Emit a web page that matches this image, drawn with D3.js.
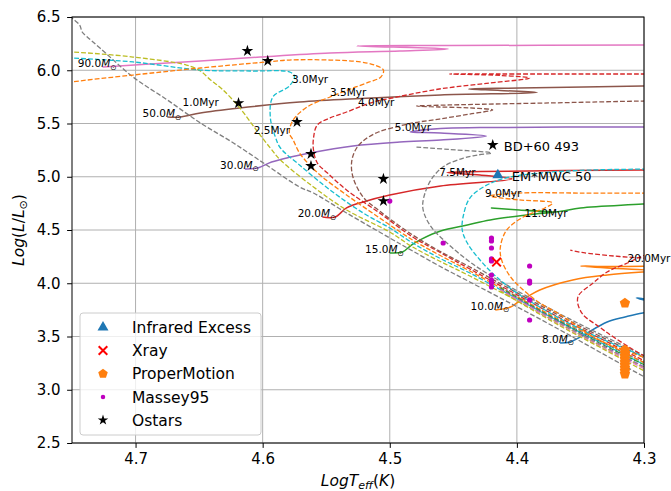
<!DOCTYPE html>
<html>
<head>
<meta charset="utf-8">
<script src="https://cdn.jsdelivr.net/npm/d3@7/dist/d3.min.js"></script>
<style>
  html, body { margin: 0; padding: 0; background: #ffffff; }
  svg { display: block; font-family: "DejaVu Sans", sans-serif; }
</style>
</head>
<body>
<svg id="hrd" width="671" height="491"></svg>
<script>
// ---------- axis ticks ----------
const xTickValues = [4.7, 4.6, 4.5, 4.4, 4.3];
const yTickValues = [2.5, 3.0, 3.5, 4.0, 4.5, 5.0, 5.5, 6.0, 6.5];

// ---------- evolutionary tracks: [log Teff, log L/Lsun], from the ZAMS ----------
const trackMassLabels = ["8.0", "10.0", "15.0", "20.0", "30.0", "50.0", "90.0"];
const track8 = [[4.366,3.439],[4.358,3.448],[4.353,3.477],[4.346,3.524],[4.329,3.636],[4.315,3.683],[4.301,3.721],[4.284,3.739],[4.295,3.824],[4.306,3.862],[4.295,3.847],[4.280,3.843]];
const track10 = [[4.417,3.749],[4.405,3.777],[4.400,3.815],[4.392,3.871],[4.382,3.937],[4.356,4.031],[4.329,4.078],[4.301,4.106],[4.287,4.115],[4.329,4.143],[4.350,4.162],[4.327,4.157],[4.287,4.162]];
const track15 = [[4.500,4.284],[4.490,4.293],[4.483,4.359],[4.475,4.415],[4.460,4.491],[4.439,4.547],[4.421,4.594],[4.382,4.655],[4.370,4.669],[4.398,4.688],[4.420,4.707],[4.398,4.688],[4.370,4.669],[4.350,4.707],[4.301,4.744],[4.250,4.782]];
const track20 = [[4.553,4.622],[4.543,4.622],[4.534,4.707],[4.521,4.763],[4.500,4.829],[4.460,4.913],[4.404,4.979],[4.429,5.016],[4.455,5.040],[4.429,5.049],[4.301,5.063],[4.250,5.063]];
const track30 = [[4.614,5.073],[4.604,5.082],[4.593,5.138],[4.578,5.185],[4.563,5.223],[4.529,5.289],[4.492,5.326],[4.460,5.345],[4.424,5.383],[4.460,5.411],[4.484,5.420],[4.460,5.453],[4.429,5.462],[4.301,5.467],[4.250,5.467]];
const track50 = [[4.675,5.561],[4.665,5.561],[4.649,5.599],[4.618,5.646],[4.571,5.702],[4.523,5.735],[4.460,5.768],[4.384,5.791],[4.413,5.810],[4.438,5.824],[4.398,5.833],[4.301,5.852],[4.250,5.861]];
const track90 = [[4.726,6.030],[4.689,6.059],[4.649,6.087],[4.602,6.124],[4.547,6.162],[4.492,6.181],[4.454,6.200],[4.526,6.228],[4.454,6.232],[4.301,6.237],[4.250,6.240]];

// ---------- isochrones: [log Teff, log L/Lsun] ----------
const isoAgeLabels = ["1.0", "2.5", "3.0", "3.5", "4.0", "5.0", "7.5", "9.0", "11.0", "20.0"];
const iso1p0 = [[4.755,6.566],[4.750,6.491],[4.744,6.425],[4.742,6.359],[4.738,6.312],[4.728,6.209],[4.702,5.937],[4.675,5.721],[4.649,5.505],[4.623,5.317],[4.597,5.110],[4.571,4.904],[4.560,4.847],[4.534,4.660],[4.500,4.425],[4.482,4.303],[4.461,4.162],[4.437,4.012],[4.401,3.786],[4.366,3.561],[4.335,3.355],[4.301,3.129],[4.269,2.922]];
const iso2p5 = [[4.759,6.171],[4.750,6.171],[4.702,6.124],[4.660,6.049],[4.649,5.993],[4.641,5.909],[4.632,5.824],[4.618,5.646],[4.605,5.439],[4.594,5.270],[4.586,5.157],[4.560,4.904],[4.534,4.688],[4.500,4.481],[4.482,4.340],[4.461,4.209],[4.437,4.068],[4.401,3.843],[4.366,3.617],[4.335,3.420],[4.301,3.214],[4.269,3.016]];
const iso3p0 = [[4.759,6.120],[4.750,6.115],[4.702,6.078],[4.649,6.002],[4.610,5.993],[4.579,5.984],[4.575,5.946],[4.579,5.852],[4.592,5.749],[4.594,5.561],[4.590,5.373],[4.586,5.270],[4.571,5.110],[4.547,4.876],[4.521,4.660],[4.500,4.519],[4.482,4.378],[4.461,4.237],[4.437,4.096],[4.401,3.862],[4.366,3.636],[4.335,3.448],[4.301,3.242],[4.269,3.045]];
const iso3p5 = [[4.759,5.871],[4.750,5.890],[4.702,5.955],[4.649,6.021],[4.597,6.078],[4.579,6.096],[4.547,6.096],[4.523,6.078],[4.512,6.049],[4.505,6.002],[4.507,5.937],[4.516,5.890],[4.531,5.824],[4.547,5.749],[4.565,5.655],[4.576,5.533],[4.579,5.411],[4.576,5.345],[4.571,5.223],[4.563,5.110],[4.553,4.998],[4.534,4.829],[4.508,4.613],[4.482,4.406],[4.461,4.265],[4.437,4.115],[4.401,3.880],[4.366,3.655],[4.335,3.467],[4.301,3.261],[4.269,3.063]];
const iso4p0 = [[4.250,5.965],[4.301,5.965],[4.413,5.965],[4.453,5.965],[4.413,5.951],[4.390,5.927],[4.421,5.880],[4.461,5.824],[4.502,5.730],[4.513,5.702],[4.534,5.608],[4.547,5.552],[4.557,5.486],[4.560,5.364],[4.560,5.251],[4.557,5.129],[4.549,5.035],[4.534,4.876],[4.508,4.660],[4.482,4.434],[4.461,4.293],[4.437,4.134],[4.401,3.899],[4.366,3.674],[4.335,3.486],[4.301,3.279],[4.269,3.082]];
const iso5p0 = [[4.250,5.721],[4.301,5.711],[4.374,5.693],[4.453,5.674],[4.479,5.664],[4.461,5.655],[4.437,5.646],[4.419,5.627],[4.437,5.589],[4.461,5.542],[4.482,5.505],[4.492,5.477],[4.509,5.420],[4.521,5.336],[4.527,5.251],[4.530,5.139],[4.529,4.998],[4.521,4.810],[4.508,4.678],[4.482,4.453],[4.461,4.303],[4.437,4.153],[4.401,3.918],[4.366,3.693],[4.335,3.505],[4.301,3.308],[4.269,3.101]];
const iso7p5 = [[4.479,5.279],[4.453,5.256],[4.420,5.223],[4.431,5.204],[4.442,5.176],[4.457,5.101],[4.466,4.998],[4.472,4.857],[4.474,4.707],[4.468,4.538],[4.455,4.378],[4.439,4.218],[4.424,4.096],[4.401,3.937],[4.366,3.711],[4.335,3.524],[4.301,3.326],[4.269,3.139]];
const iso9p0 = [[4.287,5.073],[4.342,5.063],[4.382,5.035],[4.409,4.988],[4.425,4.913],[4.437,4.800],[4.442,4.641],[4.443,4.500],[4.439,4.378],[4.429,4.218],[4.416,4.059],[4.400,3.908],[4.382,3.777],[4.364,3.655],[4.350,3.570],[4.335,3.486],[4.301,3.317],[4.269,3.157]];
const iso11p0 = [[4.287,4.847],[4.301,4.847],[4.350,4.847],[4.398,4.847],[4.421,4.819],[4.398,4.782],[4.372,4.754],[4.378,4.707],[4.395,4.622],[4.408,4.500],[4.413,4.340],[4.412,4.218],[4.405,4.059],[4.395,3.937],[4.382,3.815],[4.368,3.721],[4.356,3.627],[4.340,3.495],[4.323,3.401],[4.301,3.308],[4.269,3.148]];
const iso20p0 = [[4.269,3.157],[4.301,3.326],[4.324,3.495],[4.335,3.589],[4.349,3.721],[4.352,3.871],[4.340,4.002],[4.329,4.106],[4.313,4.190],[4.301,4.256],[4.284,4.312],[4.284,4.228],[4.301,4.237],[4.324,4.256],[4.349,4.289],[4.358,4.312]];

// Unlabelled lower main-sequence isochrone segments
const msSegA = [[4.413,3.965],[4.366,3.646],[4.335,3.458],[4.301,3.261],[4.269,3.073]];
const msSegB = [[4.413,3.955],[4.366,3.636],[4.335,3.439],[4.301,3.242],[4.269,3.054]];
const msSegC = [[4.413,3.946],[4.366,3.627],[4.335,3.430],[4.301,3.223],[4.269,3.035]];
const msSegD = [[4.413,3.937],[4.366,3.608],[4.335,3.411],[4.301,3.204],[4.269,3.016]];
const msSegE = [[4.413,3.927],[4.366,3.599],[4.335,3.401],[4.301,3.185],[4.269,2.997]];

// Points where each isochrone carries its age label
const isoLabelPoints = [[4.663,5.664],[4.607,5.401],[4.577,5.880],[4.547,5.758],[4.525,5.664],[4.496,5.430],[4.461,5.007],[4.425,4.810],[4.394,4.622],[4.313,4.200]];

// ---------- observed stars ----------
const infraredExcess = [[4.415,5.016]];
const xray = [[4.416,4.199]];
const properMotion = [[4.315,3.814],[4.315,3.373],[4.315,3.345],[4.315,3.317],[4.315,3.289],[4.315,3.260],[4.315,3.232],[4.315,3.204],[4.315,3.176],[4.315,3.148]];
const massey95 = [[4.500,4.772],[4.458,4.378],
  [4.420,4.425],[4.420,4.397],[4.420,4.331],[4.420,4.228],[4.420,4.209],[4.420,4.077],[4.420,4.030],[4.420,4.002],[4.420,3.965],
  [4.390,4.162],[4.390,4.021],[4.390,4.002],[4.390,3.843],[4.390,3.655]];
const oStars = [[4.612,6.181],[4.596,6.087],[4.619,5.692],[4.573,5.514],[4.562,5.214],[4.562,5.101],[4.505,4.979],[4.505,4.772],[4.419,5.298]];
const namedStars = [["BD+60 493", 4.419, 5.298], ["EM*MWC 50", 4.415, 5.016]];

const legendLabels = ["Infrared Excess", "Xray", "ProperMotion", "Massey95", "Ostars"];

// ---------- drawing ----------
const tab = { blue:"#1f77b4", orange:"#ff7f0e", green:"#2ca02c", red:"#d62728", purple:"#9467bd",
              brown:"#8c564b", pink:"#e377c2", grey:"#7f7f7f", olive:"#bcbd22", cyan:"#17becf" };

const svg = d3.select("#hrd");
const plot = { left: 72, right: 644, top: 17, bottom: 443 };
const x = d3.scaleLinear().domain([4.75, 4.30]).range([plot.left, plot.right]);
const y = d3.scaleLinear().domain([2.5, 6.5]).range([plot.bottom, plot.top]);

svg.append("rect").attr("width", 671).attr("height", 491).attr("fill", "#fff");

svg.append("defs").append("clipPath").attr("id", "plotClip")
  .append("rect").attr("x", plot.left).attr("y", plot.top)
  .attr("width", plot.right - plot.left).attr("height", plot.bottom - plot.top);

// grid
const grid = svg.append("g").attr("stroke", "#b0b0b0").attr("stroke-width", 1);
grid.selectAll("line.gx").data(xTickValues).join("line")
  .attr("x1", d => x(d)).attr("x2", d => x(d)).attr("y1", plot.top).attr("y2", plot.bottom);
grid.selectAll("line.gy").data(yTickValues).join("line")
  .attr("y1", d => y(d)).attr("y2", d => y(d)).attr("x1", plot.left).attr("x2", plot.right);

const lineGen = d3.line().x(d => x(d[0])).y(d => y(d[1])).curve(d3.curveCatmullRom.alpha(0.5));
const curves = svg.append("g").attr("clip-path", "url(#plotClip)").attr("fill", "none");

// tracks (solid)
const tracks = [
  { pts: track8,  color: tab.blue,   label: trackMassLabels[0] },
  { pts: track10, color: tab.orange, label: trackMassLabels[1] },
  { pts: track15, color: tab.green,  label: trackMassLabels[2] },
  { pts: track20, color: tab.red,    label: trackMassLabels[3] },
  { pts: track30, color: tab.purple, label: trackMassLabels[4] },
  { pts: track50, color: tab.brown,  label: trackMassLabels[5] },
  { pts: track90, color: tab.pink,   label: trackMassLabels[6] }
];
tracks.forEach(t => {
  curves.append("path").attr("d", lineGen(t.pts)).attr("stroke", t.color)
    .attr("stroke-width", 1.5).attr("stroke-linejoin", "round");
});

// isochrones (dashed), in plotting order
const isochrones = [
  { pts: iso1p0,  color: tab.grey,   label: isoAgeLabels[0], at: isoLabelPoints[0] },
  { pts: iso2p5,  color: tab.olive,  label: isoAgeLabels[1], at: isoLabelPoints[1] },
  { pts: iso3p0,  color: tab.cyan,   label: isoAgeLabels[2], at: isoLabelPoints[2] },
  { pts: msSegA,  color: tab.blue },
  { pts: iso3p5,  color: tab.orange, label: isoAgeLabels[3], at: isoLabelPoints[3] },
  { pts: msSegB,  color: tab.green },
  { pts: iso4p0,  color: tab.red,    label: isoAgeLabels[4], at: isoLabelPoints[4] },
  { pts: msSegC,  color: tab.purple },
  { pts: iso5p0,  color: tab.brown,  label: isoAgeLabels[5], at: isoLabelPoints[5] },
  { pts: msSegD,  color: tab.pink },
  { pts: iso7p5,  color: tab.grey,   label: isoAgeLabels[6], at: isoLabelPoints[6] },
  { pts: msSegE,  color: tab.olive },
  { pts: iso9p0,  color: tab.cyan,   label: isoAgeLabels[7], at: isoLabelPoints[7] },
  { pts: iso11p0, color: tab.orange, label: isoAgeLabels[8], at: isoLabelPoints[8] },
  { pts: iso20p0, color: tab.red,    label: isoAgeLabels[9], at: isoLabelPoints[9] }
];
isochrones.forEach(c => {
  curves.append("path").attr("d", lineGen(c.pts)).attr("stroke", c.color)
    .attr("stroke-width", 1.3).attr("stroke-dasharray", "4.8 2.1");
});

// labels for tracks and isochrones
const labels = svg.append("g").attr("font-size", 10.5).attr("fill", "#000");
tracks.forEach(t => {
  const p = t.pts[0];
  const tx = labels.append("text").attr("x", x(p[0]) + 14).attr("y", y(p[1]))
    .attr("text-anchor", "end");
  tx.append("tspan").text(t.label);
  tx.append("tspan").attr("font-style", "italic").text("M");
  tx.append("tspan").attr("font-size", 7.5).attr("dy", 2.5).text("\u2299");
});
isochrones.filter(c => c.label).forEach(c => {
  labels.append("text").attr("x", x(c.at[0])).attr("y", y(c.at[1])).text(c.label + "Myr");
});

// observed samples
const marks = svg.append("g").attr("clip-path", "url(#plotClip)");
const pentagon = { draw(ctx, size) {
  const r = Math.sqrt(size / 2.378);
  for (let i = 0; i < 5; i++) {
    const a = -Math.PI / 2 + i * 2 * Math.PI / 5;
    const px = r * Math.cos(a), py = r * Math.sin(a);
    if (i) ctx.lineTo(px, py); else ctx.moveTo(px, py);
  }
  ctx.closePath();
}};
const symStar = d3.symbol().type(d3.symbolStar).size(42)();
const symTri = d3.symbol().type(d3.symbolTriangle).size(52)();
const symX = d3.symbol().type(d3.symbolX).size(50)();
const symPent = d3.symbol().type(pentagon).size(70)();

marks.selectAll("path.pm").data(properMotion).join("path").attr("class", "pm")
  .attr("d", symPent).attr("transform", d => `translate(${x(d[0])},${y(d[1])})`).attr("fill", tab.orange);
marks.selectAll("circle.ms").data(massey95).join("circle").attr("class", "ms")
  .attr("cx", d => x(d[0])).attr("cy", d => y(d[1])).attr("r", 2.6).attr("fill", "#bf00bf");
marks.selectAll("path.xr").data(xray).join("path").attr("class", "xr")
  .attr("d", symX).attr("transform", d => `translate(${x(d[0])},${y(d[1])})`)
  .attr("stroke", "#ff0000").attr("stroke-width", 2).attr("fill", "none");
marks.selectAll("path.ir").data(infraredExcess).join("path").attr("class", "ir")
  .attr("d", symTri).attr("transform", d => `translate(${x(d[0])},${y(d[1])})`).attr("fill", tab.blue);
marks.selectAll("path.os").data(oStars).join("path").attr("class", "os")
  .attr("d", symStar).attr("transform", d => `translate(${x(d[0])},${y(d[1])})`).attr("fill", "#000");

// names of individual stars
svg.append("g").attr("font-size", 13).selectAll("text").data(namedStars).join("text")
  .attr("x", (d, i) => x(d[1]) + (i === 0 ? 11 : 14))
  .attr("y", d => y(d[2]) + 5.5)
  .text(d => d[0]);

// frame
svg.append("rect").attr("x", plot.left).attr("y", plot.top)
  .attr("width", plot.right - plot.left).attr("height", plot.bottom - plot.top)
  .attr("fill", "none").attr("stroke", "#000").attr("stroke-width", 1);

// axes
const fmt = d3.format(".1f");
const xAxis = svg.append("g").attr("transform", `translate(0,${plot.bottom})`)
  .call(d3.axisBottom(x).tickValues(xTickValues).tickFormat(fmt).tickSize(4.9).tickPadding(5));
const yAxis = svg.append("g").attr("transform", `translate(${plot.left},0)`)
  .call(d3.axisLeft(y).tickValues(yTickValues).tickFormat(fmt).tickSize(4.9).tickPadding(6.5));
[xAxis, yAxis].forEach(a => {
  a.select(".domain").remove();
  a.attr("font-family", "DejaVu Sans").attr("font-size", 15);
  a.selectAll(".tick line").attr("stroke", "#000").attr("stroke-width", 1);
  a.selectAll(".tick text").attr("fill", "#000");
});

// axis titles
const xl = svg.append("text").attr("x", (plot.left + plot.right) / 2).attr("y", 486)
  .attr("text-anchor", "middle").attr("font-size", 15.5);
xl.append("tspan").attr("font-style", "italic").text("LogT");
xl.append("tspan").attr("font-style", "italic").attr("font-size", 11).attr("dy", 3).text("eff");
xl.append("tspan").attr("dy", -3).text("(");
xl.append("tspan").attr("font-style", "italic").text("K");
xl.append("tspan").text(")");

const yl = svg.append("text").attr("transform", `translate(24,${(plot.top + plot.bottom) / 2}) rotate(-90)`)
  .attr("text-anchor", "middle").attr("font-size", 15.5);
yl.append("tspan").attr("font-style", "italic").text("Log");
yl.append("tspan").text("(");
yl.append("tspan").attr("font-style", "italic").text("L");
yl.append("tspan").text("/");
yl.append("tspan").attr("font-style", "italic").text("L");
yl.append("tspan").attr("font-size", 11).attr("dy", 3).text("\u2299");
yl.append("tspan").attr("dy", -3).text(")");

// legend
const lg = svg.append("g");
lg.append("rect").attr("x", 80).attr("y", 313).attr("width", 181).attr("height", 122).attr("rx", 3)
  .attr("fill", "#fff").attr("fill-opacity", 0.8).attr("stroke", "#cccccc").attr("stroke-width", 1);
const legendSyms = [
  { d: symTri, fill: tab.blue },
  { d: symX, stroke: "#ff0000" },
  { d: d3.symbol().type(pentagon).size(60)(), fill: tab.orange },
  { d: d3.symbol().type(d3.symbolCircle).size(16)(), fill: "#bf00bf" },
  { d: d3.symbol().type(d3.symbolStar).size(34)(), fill: "#000" }
];
legendLabels.forEach((lab, i) => {
  const cy = 327.3 + i * 23.2;
  const s = legendSyms[i];
  lg.append("path").attr("d", s.d).attr("transform", `translate(103,${cy})`)
    .attr("fill", s.fill || "none").attr("stroke", s.stroke || "none").attr("stroke-width", s.stroke ? 2 : 0);
  lg.append("text").attr("x", 132).attr("y", cy + 5.6).attr("font-size", 15.5).text(lab);
});
</script>
</body>
</html>
